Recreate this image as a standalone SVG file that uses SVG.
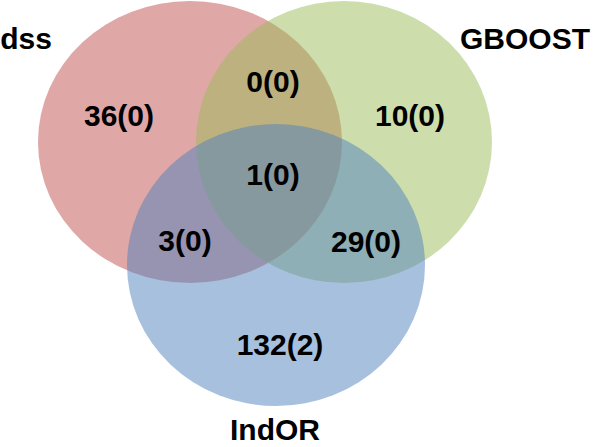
<svg xmlns="http://www.w3.org/2000/svg" width="595" height="447" viewBox="0 0 595 447">
<style>
.t{font-family:"Liberation Sans",Arial,sans-serif;font-weight:bold;font-size:30px;fill:#000;text-anchor:middle}
.s{fill-opacity:0.5;stroke:none}
</style>
<rect width="595" height="447" fill="#fff"/>
<g id="set-dss"><ellipse class="s" cx="190" cy="142" rx="152" ry="141" fill="#C0504D"/></g>
<g id="set-gboost"><ellipse class="s" cx="344" cy="142" rx="148" ry="141" fill="#9BBB59"/></g>
<g id="set-indor"><ellipse class="s" cx="276" cy="265" rx="149" ry="141" fill="#4F81BD"/></g>
<g id="labels">
<text class="t" x="26" y="49">dss</text>
<text class="t" x="525" y="49">GBOOST</text>
<text class="t" x="275" y="440">IndOR</text>
</g>
<g id="counts">
<text class="t" x="119" y="126">36(0)</text>
<text class="t" x="273" y="92">0(0)</text>
<text class="t" x="410" y="126">10(0)</text>
<text class="t" x="273" y="185">1(0)</text>
<text class="t" x="185" y="251">3(0)</text>
<text class="t" x="366" y="252">29(0)</text>
<text class="t" x="280" y="355">132(2)</text>
</g>
</svg>
